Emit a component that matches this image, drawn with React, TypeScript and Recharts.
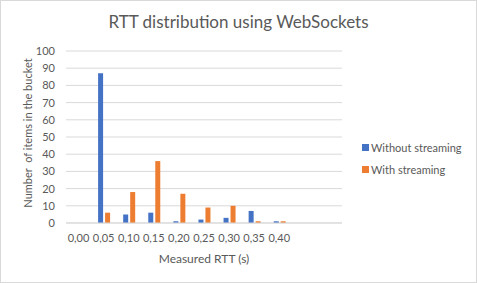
import React from 'react';
import { BarChart, Bar, XAxis, YAxis, CartesianGrid, Legend } from 'recharts';

const categories = ['0,00', '0,05', '0,10', '0,15', '0,20', '0,25', '0,30', '0,35', '0,40', '', ''];
const withoutStreaming = [0, 87, 5, 6, 1, 2, 3, 7, 1, 0, 0];
const withStreaming = [0, 6, 18, 36, 17, 9, 10, 1, 1, 0, 0];
const yTicks = [0, 10, 20, 30, 40, 50, 60, 70, 80, 90, 100];
const seriesNames = ['Without streaming', 'With streaming'];

const data = categories.map((c, i) => ({
  cat: c,
  without: withoutStreaming[i],
  with: withStreaming[i],
}));

const FONT = 'Lato, "Open Sans", sans-serif';
const TEXT = '#595959';

const LegendContent = (props: any) => {
  const payload = [...(props.payload || [])].sort(
    (a: any, b: any) => seriesNames.indexOf(a.value) - seriesNames.indexOf(b.value)
  );
  return (
    <div style={{ fontFamily: FONT, fontSize: 11, color: TEXT }}>
      {payload.map((p: any, i: number) => (
        <div key={i} style={{ display: 'flex', alignItems: 'center', height: 22.5, whiteSpace: 'nowrap' }}>
          <span style={{ display: 'inline-block', width: 7, height: 7, background: p.color, marginRight: 2 }} />
          <span>{p.value}</span>
        </div>
      ))}
    </div>
  );
};

export default function App() {
  return (
    <div style={{ position: 'absolute', left: 0, top: 0, width: 477, height: 283, background: '#fff' }}>
      <div
        style={{
          position: 'absolute',
          left: 0,
          top: 12,
          width: 477,
          textAlign: 'center',
          fontFamily: FONT,
          fontSize: 17,
          lineHeight: '20px',
          color: TEXT,
        }}
      >
        RTT distribution using WebSockets
      </div>
      <BarChart
        width={477}
        height={283}
        data={data}
        margin={{ top: 51, right: 135, bottom: 0, left: 0 }}
        barSize={5}
        barGap={2}
      >
        <CartesianGrid vertical={false} stroke="#d9d9d9" />
        <XAxis
          dataKey="cat"
          height={60}
          tickLine={false}
          axisLine={{ stroke: '#d9d9d9' }}
          tickMargin={5}
          interval={0}
          tick={{ fontFamily: FONT, fontSize: 11, fill: TEXT }}
          label={{
            value: 'Measured RTT (s)',
            position: 'insideBottom',
            offset: 20,
            style: { fontFamily: FONT, fontSize: 12, fill: TEXT },
          }}
        />
        <YAxis
          width={66}
          domain={[0, 100]}
          ticks={yTicks}
          interval={0}
          tickLine={false}
          axisLine={false}
          tickMargin={5}
          tick={{ fontFamily: FONT, fontSize: 11, fill: TEXT }}
          label={{
            content: () => (
              <text
                x={27}
                y={133}
                transform="rotate(-90 27 133)"
                textAnchor="middle"
                dominantBaseline="central"
                xmlSpace="preserve"
                style={{ fontFamily: FONT, fontSize: 11, fill: TEXT, whiteSpace: 'pre' }}
              >
                {'Number  of items in the bucket'}
              </text>
            ),
          }}
        />
        <Legend
          layout="vertical"
          verticalAlign="middle"
          align="center"
          content={<LegendContent />}
          wrapperStyle={{ left: 362, top: 136, width: 115 }}
        />
        <Bar dataKey="without" name="Without streaming" fill="#4472C4" isAnimationActive={false} />
        <Bar dataKey="with" name="With streaming" fill="#ED7D31" isAnimationActive={false} />
      </BarChart>
      <div
        style={{
          position: 'absolute',
          left: 0,
          top: 0,
          width: 477,
          height: 283,
          boxSizing: 'border-box',
          border: '1px solid #d9d9d9',
          pointerEvents: 'none',
        }}
      />
    </div>
  );
}
